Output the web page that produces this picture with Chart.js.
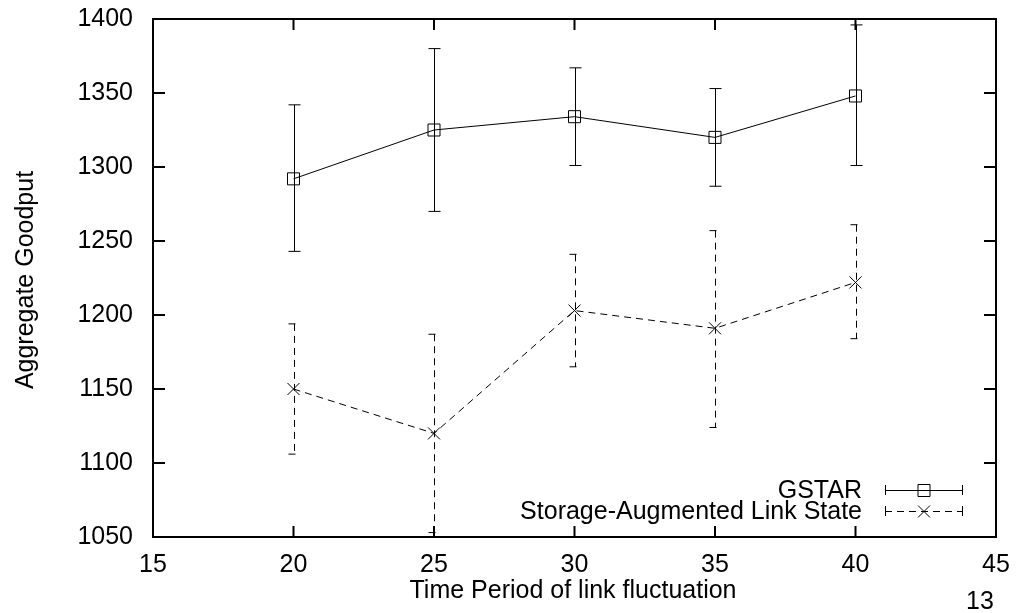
<!DOCTYPE html>
<html>
<head>
<meta charset="utf-8">
<script src="https://cdn.jsdelivr.net/npm/chart.js@4/dist/chart.umd.min.js"></script>
<style>
  html, body { margin: 0; padding: 0; background: #fff; }
  #wrap { width: 1025px; height: 613px; }
</style>
</head>
<body>
<div id="wrap"><canvas id="goodputChart" width="1025" height="613"></canvas></div>
<script>
// values
const periods = [20, 25, 30, 35, 40];
const gstarMean = [1292, 1325, 1334, 1320, 1348];
const gstarLow  = [1243, 1270, 1301, 1287, 1301];
const gstarHigh = [1342, 1380, 1367, 1353, 1396];
const salsMean = [1150, 1120, 1203, 1191, 1222];
const salsLow  = [1106, 1053, 1165, 1124, 1184];
const salsHigh = [1194, 1187, 1241, 1257, 1261];
const xTicks = [15, 20, 25, 30, 35, 40, 45];
const yTicks = [1050, 1100, 1150, 1200, 1250, 1300, 1350, 1400];

const FONT = 'Liberation Sans, Arial, sans-serif';
const FSIZE = 25;
const DASH = [7, 5];

const errorBars = [
  { low: gstarLow, high: gstarHigh, dash: [] },
  { low: salsLow, high: salsHigh, dash: DASH }
];

// error bars drawn through the scales
const errorBarPlugin = {
  id: 'errorBars',
  beforeDatasetsDraw(chart) {
    const ctx = chart.ctx;
    const xs = chart.scales.x, ys = chart.scales.y;
    errorBars.forEach((eb) => {
      ctx.save();
      ctx.strokeStyle = '#000';
      ctx.lineWidth = 1;
      ctx.setLineDash(eb.dash);
      periods.forEach((p, i) => {
        const x = Math.round(xs.getPixelForValue(p)) + 0.5;
        const yl = ys.getPixelForValue(eb.low[i]);
        const yh = ys.getPixelForValue(eb.high[i]);
        ctx.beginPath();
        ctx.moveTo(x, yh);
        ctx.lineTo(x, yl);
        ctx.moveTo(x - 6, yh);
        ctx.lineTo(x + 6, yh);
        ctx.moveTo(x - 6, yl);
        ctx.lineTo(x + 6, yl);
        ctx.stroke();
      });
      ctx.restore();
    });
  }
};

// gnuplot style frame with inward ticks, titles and key
const framePlugin = {
  id: 'frame',
  afterDraw(chart) {
    const ctx = chart.ctx;
    const a = chart.chartArea;
    const xs = chart.scales.x, ys = chart.scales.y;
    ctx.save();
    ctx.strokeStyle = '#000';
    ctx.lineWidth = 2;
    ctx.strokeRect(a.left, a.top, a.right - a.left, a.bottom - a.top);

    ctx.beginPath();
    xTicks.forEach((v) => {
      const x = xs.getPixelForValue(v);
      ctx.moveTo(x, a.bottom); ctx.lineTo(x, a.bottom - 11);
      ctx.moveTo(x, a.top); ctx.lineTo(x, a.top + 11);
    });
    yTicks.forEach((v) => {
      const y = ys.getPixelForValue(v);
      ctx.moveTo(a.left, y); ctx.lineTo(a.left + 12, y);
      ctx.moveTo(a.right, y); ctx.lineTo(a.right - 12, y);
    });
    ctx.stroke();

    // axis titles
    ctx.fillStyle = '#000';
    ctx.font = FSIZE + 'px ' + FONT;
    ctx.textAlign = 'center';
    ctx.textBaseline = 'alphabetic';
    ctx.fillText('Time Period of link fluctuation', 573, 598);
    ctx.fillText('13', 980, 609);
    ctx.save();
    ctx.translate(26, 280);
    ctx.rotate(-Math.PI / 2);
    ctx.textBaseline = 'middle';
    ctx.fillText('Aggregate Goodput', 0, 0);
    ctx.restore();

    // key
    const rows = [
      { label: 'GSTAR', y: 490, dash: [], style: 'rect' },
      { label: 'Storage-Augmented Link State', y: 511, dash: DASH, style: 'crossRot' }
    ];
    ctx.textAlign = 'right';
    ctx.textBaseline = 'middle';
    rows.forEach((r) => {
      ctx.fillStyle = '#000';
      ctx.fillText(r.label, 862, r.y + 1);
      ctx.save();
      ctx.lineWidth = 1;
      ctx.setLineDash(r.dash);
      ctx.beginPath();
      ctx.moveTo(885, r.y + 0.5); ctx.lineTo(963, r.y + 0.5);
      ctx.stroke();
      ctx.setLineDash([]);
      ctx.beginPath();
      ctx.moveTo(885.5, r.y - 5); ctx.lineTo(885.5, r.y + 5);
      ctx.moveTo(962.5, r.y - 5); ctx.lineTo(962.5, r.y + 5);
      ctx.stroke();
      ctx.fillStyle = 'rgba(0,0,0,0)';
      Chart.helpers.drawPoint(ctx, {
        pointStyle: r.style, radius: 8.5, rotation: 0, borderWidth: 1
      }, 924, r.y + 0.5);
      ctx.restore();
    });
    ctx.restore();
  }
};

const ctx = document.getElementById('goodputChart').getContext('2d');
const goodputChart = new Chart(ctx, {
  type: 'line',
  data: {
    datasets: [
      {
        label: 'GSTAR',
        data: periods.map((p, i) => ({ x: p, y: gstarMean[i] })),
        borderColor: '#000',
        borderWidth: 1,
        pointStyle: 'rect',
        pointRadius: 8.5,
        pointBorderWidth: 1,
        pointBorderColor: '#000',
        pointBackgroundColor: 'rgba(0,0,0,0)',
        tension: 0,
        fill: false
      },
      {
        label: 'Storage-Augmented Link State',
        data: periods.map((p, i) => ({ x: p, y: salsMean[i] })),
        borderColor: '#000',
        borderWidth: 1,
        borderDash: DASH,
        pointStyle: 'crossRot',
        pointRadius: 8.5,
        pointBorderWidth: 1,
        pointBorderColor: '#000',
        pointBackgroundColor: 'rgba(0,0,0,0)',
        tension: 0,
        fill: false
      }
    ]
  },
  options: {
    responsive: false,
    animation: false,
    layout: { padding: { top: 19, right: 29, left: 0, bottom: 0 } },
    plugins: {
      legend: { display: false },
      tooltip: { enabled: false }
    },
    scales: {
      x: {
        type: 'linear',
        min: 15,
        max: 45,
        afterFit(scale) {
          scale.height = 76;
          scale.paddingLeft = 0; scale.paddingRight = 0;
        },
        afterBuildTicks(scale) { scale.ticks = xTicks.map((v) => ({ value: v })); },
        grid: { display: false, drawTicks: false },
        border: { display: false },
        ticks: {
          color: '#000', font: { family: FONT, size: FSIZE }, padding: 13, maxRotation: 0,
          callback: (v) => String(v)
        }
      },
      y: {
        min: 1050,
        max: 1400,
        afterFit(scale) {
          scale.width = 153;
          scale.paddingTop = 0; scale.paddingBottom = 0;
        },
        afterBuildTicks(scale) { scale.ticks = yTicks.map((v) => ({ value: v })); },
        grid: { display: false, drawTicks: false },
        border: { display: false },
        ticks: {
          color: '#000', font: { family: FONT, size: FSIZE }, padding: 20,
          callback: (v) => String(v)
        }
      }
    }
  },
  plugins: [errorBarPlugin, framePlugin]
});
</script>
</body>
</html>
